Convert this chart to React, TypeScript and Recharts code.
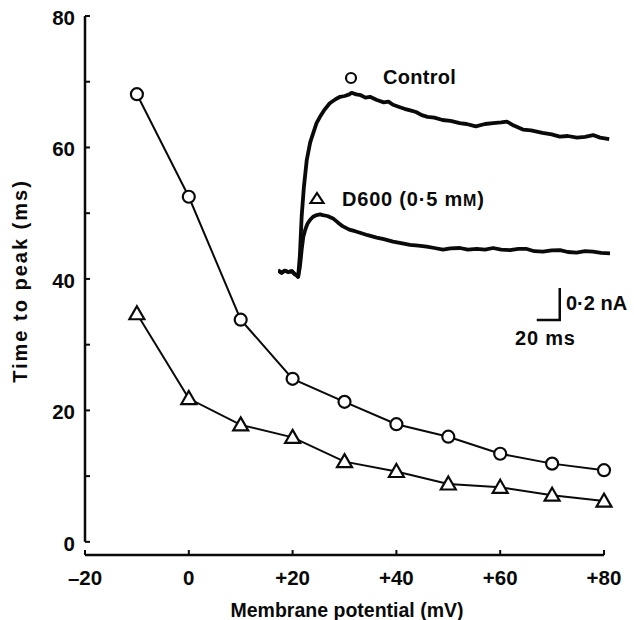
import { LineChart, Line, XAxis, YAxis, ReferenceLine } from 'recharts';

// membrane potential (mV) and time to peak (ms)
const potentials = [-10, 0, 10, 20, 30, 40, 50, 60, 70, 80];
const controlPeak = [68.1, 52.5, 33.8, 24.8, 21.3, 17.9, 16.0, 13.4, 11.9, 10.9];
const d600Peak = [34.7, 21.8, 17.8, 15.9, 12.2, 10.7, 8.8, 8.3, 7.1, 6.2];

const xTicks = [-20, 0, 20, 40, 60, 80];
const yTicks = [0, 10, 20, 30, 40, 50, 60, 70, 80];

// inset current traces: [time (ms), current (nA)]
const controlTrace: [number, number][] = [
  [0, 0.01], [3, -0.005], [6, 0.008], [9, 0], [12, 0.006], [14, -0.01], [16, -0.02], [17.5, -0.03],
  [19, 0.1], [20.6, 0.35], [22.5, 0.53], [25, 0.7], [28, 0.81], [30.7, 0.87], [33.5, 0.93],
  [36.5, 0.97], [40, 1.01], [45, 1.055], [50, 1.08], [54, 1.095], [58, 1.1], [62, 1.11],
  [64, 1.12], [68, 1.11], [72, 1.105], [76, 1.09], [80, 1.095], [86, 1.075], [92, 1.06],
  [96, 1.065], [100, 1.045], [106, 1.03], [110, 1.02], [115, 1.01], [120, 1.0], [125, 0.98],
  [130, 0.97], [136, 0.965], [143, 0.95], [150, 0.945], [158, 0.93], [164, 0.925], [172, 0.91],
  [180, 0.925], [187, 0.93], [194, 0.935], [199, 0.94], [205, 0.915], [213, 0.89], [220, 0.885],
  [230, 0.87], [238, 0.86], [245, 0.846], [252, 0.85], [260, 0.84], [267, 0.845], [274, 0.856],
  [280, 0.84], [288, 0.83],
];
const d600Trace: [number, number][] = [
  [0, 0.01], [3, -0.005], [6, 0.008], [9, 0], [12, 0.006], [14, -0.01], [16, -0.02], [17.5, -0.03],
  [19, 0.03], [20.6, 0.14], [22, 0.22], [23.5, 0.26], [25.5, 0.3], [27.8, 0.325], [30.5, 0.345],
  [33.7, 0.356], [36.5, 0.36], [39, 0.355], [43, 0.35], [47.8, 0.335], [52, 0.31], [56.5, 0.285],
  [62, 0.265], [67, 0.255], [71.3, 0.245], [78, 0.23], [85.8, 0.215], [92, 0.205], [100, 0.19],
  [107, 0.18], [114.8, 0.17], [122, 0.165], [129.3, 0.158], [136, 0.15], [143.5, 0.14],
  [150, 0.148], [158.3, 0.15], [165, 0.14], [172.8, 0.145], [180, 0.14], [187, 0.15], [194, 0.14],
  [201.7, 0.137], [209, 0.145], [216.3, 0.144], [223, 0.13], [230.4, 0.127], [238, 0.135],
  [245.2, 0.137], [252, 0.125], [259.7, 0.121], [267, 0.13], [273.9, 0.127], [281, 0.12],
  [288.7, 0.117],
];
// scale bar: 20 ms x 0.2 nA
const scaleBar: [number, number][] = [[225, -0.3], [245, -0.3], [245, -0.1]];

const rows = potentials.map((v, i) => ({ v, control: controlPeak[i], d600: d600Peak[i] }));
const toRows = (pts: [number, number][]) => pts.map(([t, i]) => ({ t, i }));

const FONT = "'Liberation Sans', Arial, Helvetica, sans-serif";
const INK = '#0a0a0a';

const fmtX = (v: number) => (v > 0 ? `+${v}` : v < 0 ? `–${-v}` : '0');

function XTick({ x, y, payload }: any) {
  return (
    <g>
      <line x1={x} y1={y} x2={x} y2={y - 5} stroke={INK} strokeWidth={2} />
      <text x={x} y={y + 30} textAnchor="middle" fontFamily={FONT} fontWeight={700} fontSize={20.5} fill={INK}>
        {fmtX(payload.value)}
      </text>
    </g>
  );
}

function YTick({ x, y, payload }: any) {
  const v = payload.value;
  return (
    <g>
      <line x1={x} y1={y} x2={x + 5} y2={y} stroke={INK} strokeWidth={2} />
      {v % 20 === 0 && (
        <text x={x - 10} y={y + 9} textAnchor="end" fontFamily={FONT} fontWeight={700} fontSize={20.5} fill={INK}>
          {v}
        </text>
      )}
    </g>
  );
}

const circleDot = (p: any) => (
  <circle key={`c${p.index}`} cx={p.cx} cy={p.cy} r={6} fill="#fff" stroke={INK} strokeWidth={2.2} />
);

const triangleDot = (p: any) => (
  <path
    key={`t${p.index}`}
    d={`M${p.cx},${p.cy - 7.5} L${p.cx + 7.5},${p.cy + 5.5} L${p.cx - 7.5},${p.cy + 5.5} Z`}
    fill="#fff"
    stroke={INK}
    strokeWidth={2.2}
    strokeLinejoin="miter"
  />
);

const textStyle = {
  position: 'absolute' as const,
  fontFamily: FONT,
  fontWeight: 700,
  fontSize: 20,
  lineHeight: '20px',
  color: INK,
  whiteSpace: 'nowrap' as const,
};

export default function App() {
  return (
    <div style={{ position: 'absolute', left: 0, top: 0, width: 634, height: 620, background: '#fff' }}>
      <LineChart width={634} height={620} data={rows} margin={{ top: 16, right: 30, bottom: 0, left: 0 }}>
        <XAxis
          type="number"
          dataKey="v"
          domain={[-20, 80]}
          ticks={xTicks}
          interval={0}
          tickSize={0}
          tickMargin={0}
          tickLine={false}
          tick={<XTick />}
          axisLine={{ stroke: INK, strokeWidth: 2.5 }}
          height={65}
        />
        <YAxis
          type="number"
          domain={[-2, 80]}
          ticks={yTicks}
          interval={0}
          tickSize={0}
          tickMargin={0}
          tickLine={false}
          tick={<YTick />}
          axisLine={false}
          width={85}
          allowDataOverflow
        />
        <ReferenceLine
          segment={[{ x: -20, y: 0 }, { x: -20, y: 80 }]}
          stroke={INK}
          strokeWidth={2.5}
          ifOverflow="visible"
        />
        <Line
          type="linear"
          dataKey="control"
          stroke={INK}
          strokeWidth={2}
          dot={circleDot}
          activeDot={false}
          isAnimationActive={false}
        />
        <Line
          type="linear"
          dataKey="d600"
          stroke={INK}
          strokeWidth={2}
          dot={triangleDot}
          activeDot={false}
          isAnimationActive={false}
        />
      </LineChart>

      {/* inset: current records */}
      <div style={{ position: 'absolute', left: 278, top: 80 }}>
        <LineChart width={340} height={250} margin={{ top: 0, right: 0, bottom: 0, left: 0 }}>
          <XAxis type="number" dataKey="t" domain={[0, 295.65]} hide allowDataOverflow />
          <YAxis type="number" dataKey="i" domain={[-0.3625, 1.2]} hide allowDataOverflow />
          <Line data={toRows(controlTrace)} dataKey="i" type="linear" stroke={INK} strokeWidth={3.8}
            strokeLinejoin="round" dot={false} activeDot={false} isAnimationActive={false} />
          <Line data={toRows(d600Trace)} dataKey="i" type="linear" stroke={INK} strokeWidth={3.8}
            strokeLinejoin="round" dot={false} activeDot={false} isAnimationActive={false} />
          <Line data={toRows(scaleBar)} dataKey="i" type="linear" stroke={INK} strokeWidth={2.5}
            dot={false} activeDot={false} isAnimationActive={false} />
        </LineChart>
      </div>

      {/* legend labels */}
      <svg style={{ position: 'absolute', left: 0, top: 0 }} width={634} height={620} pointerEvents="none">
        <circle cx={351} cy={78} r={5} fill="#fff" stroke={INK} strokeWidth={2.2} />
        <path d="M317,193 L323.5,203 L310.5,203 Z" fill="#fff" stroke={INK} strokeWidth={2.2} />
      </svg>
      <div style={{ ...textStyle, left: 383, top: 67, letterSpacing: 0.3 }}>Control</div>
      <div style={{ ...textStyle, left: 342, top: 189, letterSpacing: 0.8 }}>
        D600 (0·5 m<span style={{ fontSize: 16 }}>M</span>)
      </div>
      <div style={{ ...textStyle, left: 566, top: 293 }}>0·2 nA</div>
      <div style={{ ...textStyle, left: 515, top: 328, letterSpacing: 0.8 }}>20 ms</div>

      {/* axis titles */}
      <div style={{ ...textStyle, left: 347, top: 600, transform: 'translateX(-50%)', fontSize: 19.5 }}>
        Membrane potential (mV)
      </div>
      <div
        style={{
          ...textStyle,
          left: 20,
          top: 281,
          letterSpacing: 2,
          transform: 'translate(-50%, -50%) rotate(-90deg)',
        }}
      >
        Time to peak (ms)
      </div>
    </div>
  );
}
